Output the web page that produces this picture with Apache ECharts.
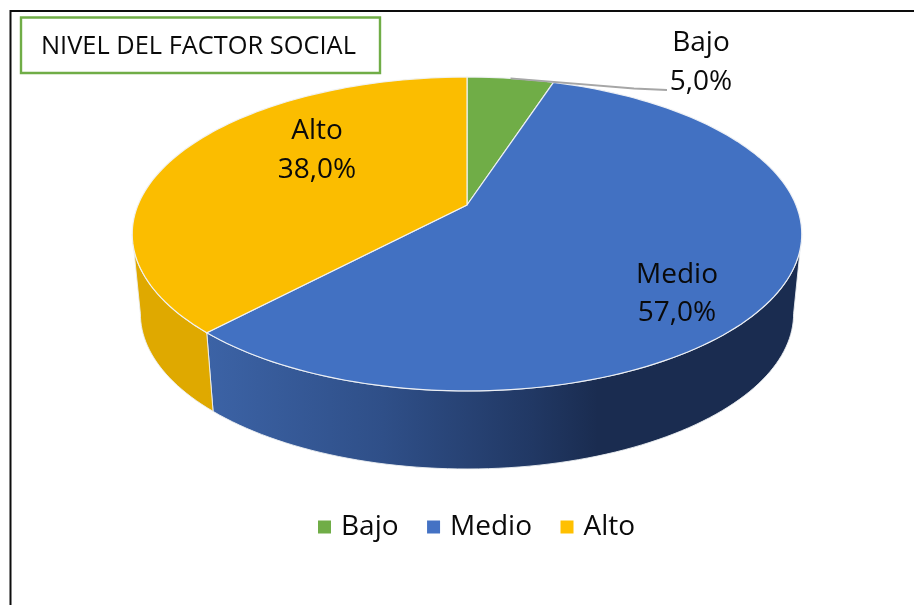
<!DOCTYPE html>
<html><head><meta charset="utf-8">
<style>html,body{margin:0;padding:0;background:#fff}#c{width:914px;height:605px}</style>
<script src="https://cdn.jsdelivr.net/npm/echarts@6/dist/echarts.min.js"></script>
</head><body><div id="c"></div>
<script>
const categories = ['Bajo', 'Medio', 'Alto'];
const values = [5.0, 57.0, 38.0];
const colors = ['#70AD47', '#4472C4', '#FFC000'];
const chartTitle = 'NIVEL DEL FACTOR SOCIAL';

const FONT = '"Open Sans", sans-serif';
const TEXT = '#0a0a0a';
const top3d = {cx: 467, cy: 205, a: 329, b: 151.6, k: 0.1847};
const bot3d = {cx: 467, cy: 285, a: 321, b: 150, k: 0.1847};
const faceFill = ['#70AD47', '#4271C2', '#FBBD00'];
const sideFill = [
  [[0, '#5a8a3a'], [1, '#3a5a26']],
  [[0, '#3c63a6'], [0.3, '#2f4f88'], [0.55, '#213864'], [0.66, '#1a2c50'], [1, '#1a2c50']],
  [[0, '#dfa900'], [1, '#c99700']]
];
const labelBox = [[701, 62.5], [677, 294], [317, 150.5]];

function proj(p, deg, r) {
  const t = deg * Math.PI / 180, w = 1 + p.k * r * Math.cos(t);
  return [p.cx + p.a * r * Math.sin(t) / w, p.cy - p.b * r * Math.cos(t) / w];
}
function rim(p, from, to) {
  const out = [], n = Math.max(2, Math.ceil((to - from) / 1.5));
  for (let i = 0; i <= n; i++) out.push(proj(p, from + (to - from) * i / n, 1));
  return out;
}
const total = values.reduce((s, v) => s + v, 0);
const frontStart = Math.acos(-top3d.k) * 180 / Math.PI;
const frontEnd = 360 - frontStart;
function range(idx) {
  let s = 0;
  for (let i = 0; i < idx; i++) s += values[i];
  return [s / total * 360, (s + values[idx]) / total * 360];
}
function renderSlice(idx) {
  return function (params, api) {
    const [a0, a1] = range(idx);
    const topEdge = rim(top3d, a0, a1);
    const mid = (a0 + a1) / 2;
    const children = [];
    const s0 = Math.max(a0, frontStart), s1 = Math.min(a1, frontEnd);
    if (s1 > s0) {
      children.push({
        type: 'polygon', z2: 1 + (idx === 2 ? 1 : 0),
        shape: {points: rim(top3d, s0, s1).concat(rim(bot3d, s0, s1).reverse())},
        style: {
          fill: new echarts.graphic.LinearGradient(205, 0, 800, 0,
            sideFill[idx].map(s => ({offset: s[0], color: s[1]})), true),
          stroke: 'rgba(235,238,242,0.9)', lineWidth: 1
        }
      });
    }
    children.push({
      type: 'polygon', z2: 10,
      shape: {points: [[top3d.cx, top3d.cy]].concat(topEdge)},
      style: {fill: faceFill[idx], stroke: 'rgba(240,242,245,0.95)', lineWidth: 1.2}
    }, {
      type: 'text', z2: 30,
      style: {
        x: labelBox[idx][0], y: labelBox[idx][1],
        text: categories[idx] + '\n' + values[idx].toFixed(1).replace('.', ',') + '%',
        font: '28px ' + FONT, lineHeight: 38.5, fill: TEXT,
        align: 'center', verticalAlign: 'middle'
      }
    });
    if (idx === 0) {
      children.push({
        type: 'polyline', z2: 20,
        shape: {points: [proj(top3d, mid, 1), [634, 88.5], [667, 90]]},
        style: {fill: null, stroke: '#a6a6a6', lineWidth: 1.8}
      });
    }
    return {type: 'group', children};
  };
}
const chart = echarts.init(document.getElementById('c'), null, {renderer: 'canvas'});
chart.setOption({
  animation: false,
  backgroundColor: '#ffffff',
  title: {
    text: chartTitle, left: 36, top: 29,
    textStyle: {fontFamily: FONT, fontSize: 25.4, fontWeight: 'normal', color: TEXT}
  },
  legend: {
    data: categories, left: 313, top: 508, icon: 'rect',
    itemWidth: 13, itemHeight: 13, itemGap: 28.5,
    textStyle: {fontFamily: FONT, fontSize: 28, color: TEXT, padding: [0, 0, 0, 5]}
  },
  graphic: [
    {type: 'polyline', silent: true, shape: {points: [[10.5, 605], [10.5, 11], [914, 11]]},
     style: {fill: null, stroke: '#0d0d0d', lineWidth: 2}},
    {type: 'rect', silent: true, shape: {x: 21, y: 17.5, width: 359, height: 55.5},
     style: {fill: null, stroke: '#70AD47', lineWidth: 2.4}}
  ],
  series: categories.map((name, i) => ({
    type: 'custom', name, coordinateSystem: 'none', silent: true,
    itemStyle: {color: colors[i]},
    data: [values[i]],
    renderItem: renderSlice(i)
  }))
});
</script></body></html>
